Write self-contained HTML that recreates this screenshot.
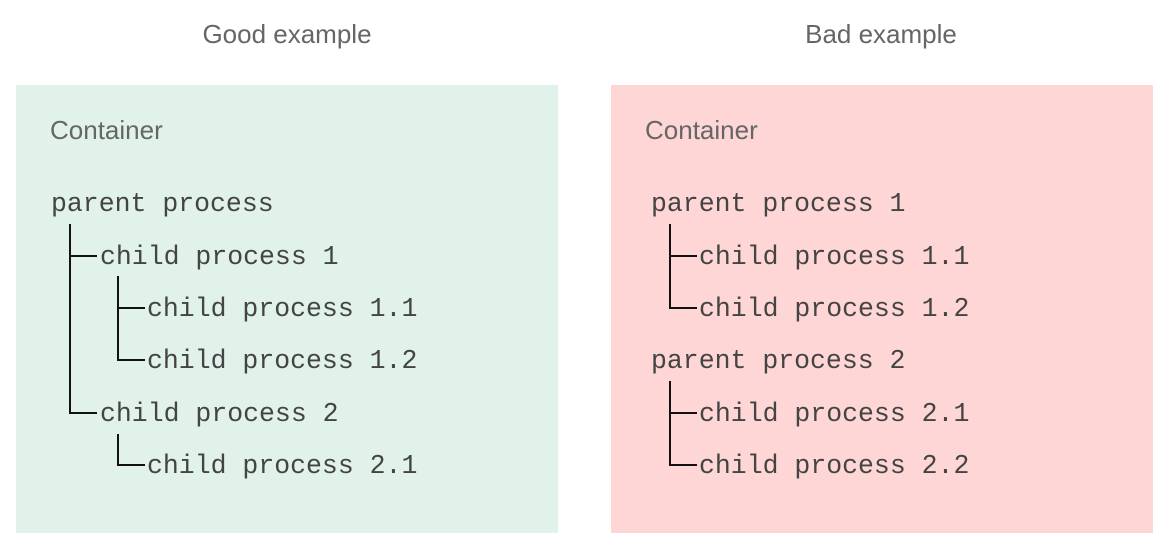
<!DOCTYPE html>
<html><head><meta charset="utf-8"><style>
html,body{margin:0;padding:0;background:#fff;}
svg{display:block}
.t{font-family:"Liberation Sans",sans-serif;fill:#666;}
.m{font-family:"Liberation Mono",monospace;font-size:26.5px;fill:#444;}
</style></head><body>
<svg width="1173" height="549" viewBox="0 0 1173 549">
<text class="t" x="287" y="43" font-size="26" text-anchor="middle">Good example</text>
<text class="t" x="881" y="43" font-size="26" text-anchor="middle">Bad example</text>
<rect x="16" y="85" width="542" height="448" fill="#e0f2ea"/>
<rect x="611" y="85" width="542" height="448" fill="#ffd6d6"/>
<text class="t" x="50" y="139" font-size="26">Container</text>
<text class="t" x="645" y="139" font-size="26">Container</text>
<g stroke="#111" stroke-width="2" fill="none">
<path d="M70 224V413H97M70 256H97M118 276V360H145M118 308H145M118 434V465H145"/>
<path d="M670 224V308H697M670 256H697M670 381V465H697M670 413H697"/>
</g>
<g class="m">
<text x="51" y="211">parent process</text>
<text x="100" y="264">child process 1</text>
<text x="147" y="316">child process 1.1</text>
<text x="147" y="368">child process 1.2</text>
<text x="100" y="421">child process 2</text>
<text x="147" y="473">child process 2.1</text>
<text x="651" y="211">parent process 1</text>
<text x="699" y="264">child process 1.1</text>
<text x="699" y="316">child process 1.2</text>
<text x="651" y="368">parent process 2</text>
<text x="699" y="421">child process 2.1</text>
<text x="699" y="473">child process 2.2</text>
</g>
</svg>
</body></html>
